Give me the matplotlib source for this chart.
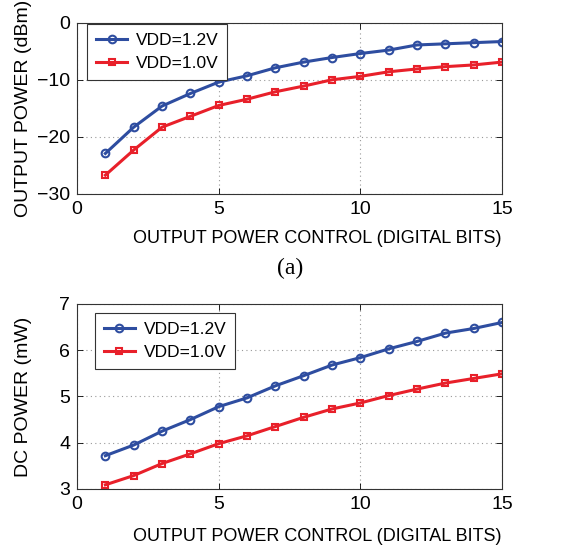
import matplotlib
matplotlib.use("Agg")
from matplotlib import pyplot as plt

# datos
bits = [1, 2, 3, 4, 5, 6, 7, 8, 9, 10, 11, 12, 13, 14, 15]
pout_12 = [-22.9, -18.3, -14.6, -12.4, -10.4, -9.3, -7.9, -6.9, -6.1, -5.4, -4.8, -3.9, -3.7, -3.5, -3.3]
pout_10 = [-26.7, -22.3, -18.3, -16.4, -14.5, -13.4, -12.1, -11.1, -10.0, -9.4, -8.6, -8.1, -7.7, -7.4, -6.9]
pdc_12 = [3.72, 3.95, 4.25, 4.50, 4.78, 4.97, 5.23, 5.45, 5.68, 5.84, 6.03, 6.19, 6.37, 6.47, 6.60]
pdc_10 = [3.09, 3.29, 3.55, 3.76, 3.98, 4.15, 4.35, 4.55, 4.73, 4.86, 5.02, 5.16, 5.29, 5.39, 5.49]
etiquetas = ["VDD=1.2V", "VDD=1.0V"]

azul = "#2e4da0"
rojo = "#e8202a"

plt.rcParams["font.family"] = ["Liberation Sans", "DejaVu Sans"]
plt.rcParams["font.size"] = 14

fig = plt.figure(figsize=(5.77, 5.48), dpi=100)
ax1 = fig.add_axes([0.1335, 0.646, 0.7366, 0.3126])
ax2 = fig.add_axes([0.1335, 0.1077, 0.7366, 0.3376])


def dibujar(ax, y1, y2, ylim, yticks, ylabel, leg_pos):
    ax.plot(bits, y1, color=azul, lw=2.2, marker="o", ms=5.5, mfc="none", mew=1.5, label=etiquetas[0])
    ax.plot(bits, y2, color=rojo, lw=2.2, marker="s", ms=5, mfc="none", mew=1.5, label=etiquetas[1])
    ax.set_xlim(0, 15)
    ax.set_ylim(*ylim)
    ax.set_xticks([0, 5, 10, 15])
    ax.set_yticks(yticks)
    ax.set_yticklabels([str(t).replace("-", "\u2212") for t in yticks])
    ax.grid(True, linestyle=(0, (1, 3)), color="#999999", lw=0.8)
    ax.tick_params(direction="in", length=4, width=0.6, top=True, right=True, pad=5)
    for s in ax.spines.values():
        s.set_linewidth(0.8)
        s.set_color("#333333")
    ax.set_ylabel(ylabel, fontsize=14)
    ax.yaxis.set_label_coords(-0.105, 0.5)
    ax.set_xlabel("OUTPUT POWER CONTROL (DIGITAL BITS)", fontsize=13)
    ax.xaxis.set_label_coords(0.565, -0.21)
    leg = ax.legend(loc="upper left", bbox_to_anchor=leg_pos, borderaxespad=0, fancybox=False,
                    edgecolor="#333333", framealpha=1, fontsize=12.5, handlelength=1.8,
                    borderpad=0.5, labelspacing=0.45, handletextpad=0.5)
    leg.get_frame().set_linewidth(0.8)


dibujar(ax1, pout_12, pout_10, (-30, 0), [-30, -20, -10, 0], "OUTPUT POWER (dBm)", (0.024, 0.99))
dibujar(ax2, pdc_12, pdc_10, (3, 7), [3, 4, 5, 6, 7], "DC POWER (mW)", (0.042, 0.951))

fig.text(0.503, 0.51, "(a)", family="Liberation Serif", fontsize=17, ha="center", va="center")

fig.savefig("out.png", dpi=100)
